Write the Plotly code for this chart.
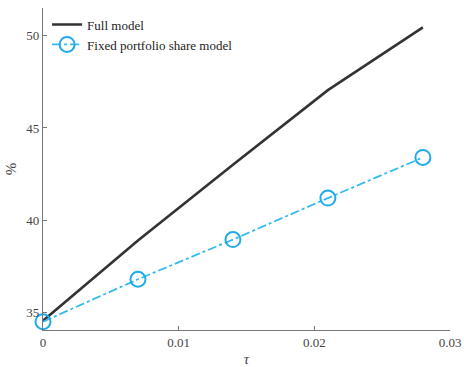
import plotly.graph_objects as go

tau = [0, 0.007, 0.014, 0.021, 0.028]
full_model = [34.55, 38.9, 43.0, 47.05, 50.45]
fixed_share = [34.5, 36.8, 38.95, 41.2, 43.4]
x_ticks = [0, 0.01, 0.02, 0.03]
x_tick_labels = ["0", "0.01", "0.02", "0.03"]
y_ticks = [35, 40, 45, 50]

font = "Liberation Serif"

fig = go.Figure()
fig.add_trace(go.Scatter(
    x=tau, y=full_model, mode="lines", name="Full model",
    line=dict(color="#333333", width=2.6), cliponaxis=False))
fig.add_trace(go.Scatter(
    x=tau, y=fixed_share, mode="lines+markers", name="Fixed portfolio share model",
    line=dict(color="#33bbee", width=1.8, dash="dashdot"),
    marker=dict(symbol="circle-open", size=15, color="#22aaee", line=dict(width=2)),
    cliponaxis=False))

fig.update_layout(
    width=464, height=367,
    margin=dict(l=43, r=14, t=8, b=37, autoexpand=False),
    paper_bgcolor="white", plot_bgcolor="white",
    font=dict(family=font, size=13, color="#444444"),
    showlegend=True,
    legend=dict(x=0.01, y=0.995, xanchor="left", yanchor="top",
                bgcolor="rgba(255,255,255,0)", font=dict(family=font, size=13, color="#222222"),
                itemwidth=30, tracegroupgap=0),
)
fig.update_xaxes(
    range=[0, 0.03], tickvals=x_ticks, ticktext=x_tick_labels, automargin=False,
    showgrid=False, zeroline=False, showline=True, linecolor="#777777", linewidth=1.3,
    ticks="inside", ticklen=4, tickcolor="#777777",
    title=dict(text="<i>τ</i>", font=dict(family=font, size=15, color="#444444"), standoff=6))
fig.update_yaxes(
    range=[34.05, 51.5], tickvals=y_ticks, automargin=False,
    showgrid=False, zeroline=False, showline=True, linecolor="#777777", linewidth=1.3,
    ticks="inside", ticklen=4, tickcolor="#777777",
    title=dict(text="%", font=dict(family=font, size=15, color="#444444"), standoff=6))

fig.write_html("out.html")
